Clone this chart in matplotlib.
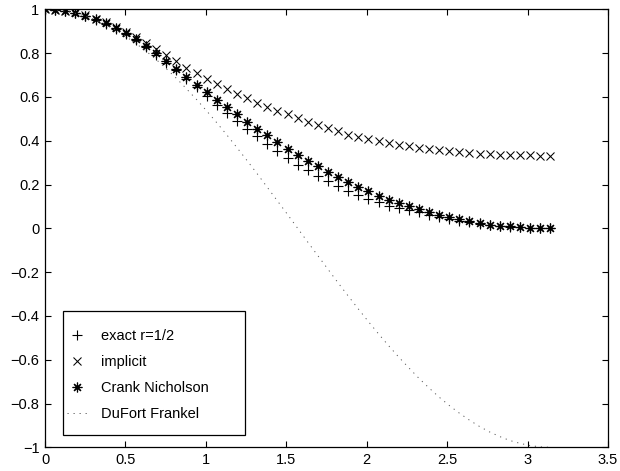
import numpy as np
import matplotlib
matplotlib.use('Agg')
import matplotlib.pyplot as plt
from matplotlib.patches import Rectangle
from matplotlib.ticker import FuncFormatter

plt.rcParams['font.family'] = ['Liberation Sans', 'DejaVu Sans']

# 51 grid points on [0, pi]
x = np.linspace(0, np.pi, 51)

exact = [1.0, 0.998, 0.993, 0.983, 0.969, 0.953, 0.934, 0.911, 0.886, 0.858,
         0.826, 0.793, 0.757, 0.721, 0.684, 0.646, 0.602, 0.564, 0.526, 0.490,
         0.452, 0.420, 0.386, 0.352, 0.321, 0.291, 0.265, 0.240, 0.215, 0.192,
         0.171, 0.154, 0.134, 0.119, 0.104, 0.093, 0.082, 0.073, 0.062, 0.052,
         0.043, 0.035, 0.028, 0.021, 0.015, 0.011, 0.007, 0.004, 0.002, 0.001, 0.0]

implicit = [1.0, 0.999, 0.994, 0.986, 0.974, 0.958, 0.941, 0.919, 0.897, 0.873,
            0.846, 0.817, 0.790, 0.766, 0.734, 0.710, 0.683, 0.658, 0.637, 0.614,
            0.594, 0.573, 0.555, 0.536, 0.520, 0.504, 0.486, 0.471, 0.456, 0.443,
            0.428, 0.419, 0.408, 0.397, 0.390, 0.382, 0.374, 0.367, 0.362, 0.356,
            0.352, 0.348, 0.344, 0.341, 0.340, 0.337, 0.335, 0.333, 0.333, 0.332, 0.332]

crank = [1.0, 0.998, 0.993, 0.984, 0.971, 0.955, 0.936, 0.913, 0.890, 0.864,
         0.833, 0.801, 0.765, 0.727, 0.692, 0.654, 0.622, 0.586, 0.554, 0.520,
         0.487, 0.455, 0.425, 0.394, 0.364, 0.337, 0.307, 0.283, 0.256, 0.233,
         0.210, 0.189, 0.169, 0.149, 0.131, 0.116, 0.100, 0.086, 0.075, 0.062,
         0.050, 0.042, 0.034, 0.025, 0.017, 0.012, 0.009, 0.006, 0.003, 0.002, 0.0]

dufort = [1.000, 0.998, 0.992, 0.982, 0.969, 0.951, 0.930, 0.905, 0.876, 0.844,
          0.809, 0.771, 0.729, 0.685, 0.637, 0.588, 0.536, 0.482, 0.426, 0.368,
          0.309, 0.249, 0.187, 0.125, 0.063, 0.000, -0.063, -0.125, -0.187, -0.249,
          -0.309, -0.368, -0.426, -0.482, -0.536, -0.588, -0.637, -0.685, -0.729, -0.771,
          -0.809, -0.844, -0.876, -0.905, -0.930, -0.951, -0.969, -0.982, -0.992, -0.998, -1.000]

fig = plt.figure(figsize=(6.2, 4.71), dpi=100)
ax = fig.add_axes([0.0726, 0.0503, 0.908, 0.9299])

ax.plot(x, exact, linestyle='none', marker='+', color='k', markersize=7,
        markeredgewidth=0.8, label='exact r=1/2')
ax.plot(x, implicit, linestyle='none', marker='x', color='k', markersize=6,
        markeredgewidth=0.75, label='implicit')
ax.plot(x, crank, linestyle='none', marker=(8, 2, 0), color='k', markersize=7,
        markeredgewidth=0.85, label='Crank Nicholson')
ax.plot(x, dufort, color='0.35', linewidth=0.7, dashes=(1.2, 5.0),
        label='DuFort Frankel')

# matlab style legend box: wide padding, drawn by hand behind a frameless legend
box = Rectangle((0.0314, 0.0281), 0.3238, 0.2831, transform=ax.transAxes,
                facecolor='white', edgecolor='k', linewidth=0.9, zorder=4.5,
                clip_on=False)
ax.add_patch(box)
leg = ax.legend(loc='upper left', bbox_to_anchor=(0.0385, 0.270), frameon=False,
                fontsize=10.5, handlelength=1.37, handletextpad=1.0,
                labelspacing=0.82, borderpad=0, borderaxespad=0)

ax.set_xlim(0, 3.5)
ax.set_ylim(-1, 1)
ax.set_xticks(np.arange(0, 3.51, 0.5))
ax.set_yticks(np.linspace(-1, 1, 11))
fmt = FuncFormatter(lambda v, p: ('%g' % round(v, 2)).replace('-', '\u2212'))
ax.xaxis.set_major_formatter(fmt)
ax.yaxis.set_major_formatter(fmt)
ax.tick_params(direction='in', length=4, width=0.8, top=True, right=True,
               labelsize=10.5, pad=4)
for s in ax.spines.values():
    s.set_linewidth(0.9)

fig.savefig('out.png', dpi=100)
